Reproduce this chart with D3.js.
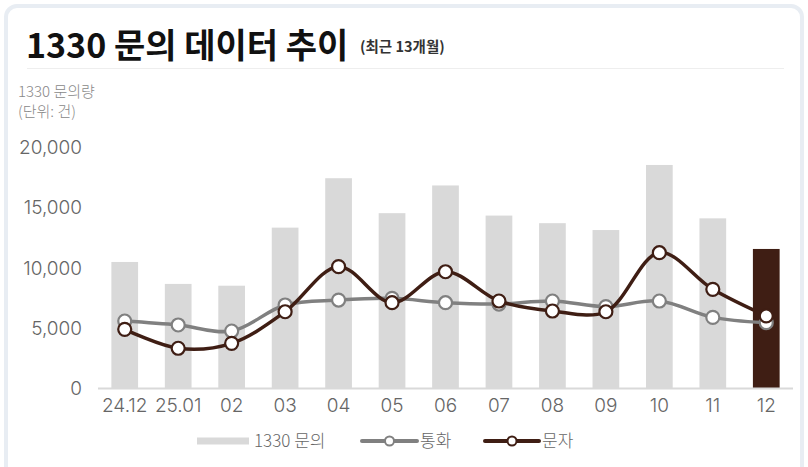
<!DOCTYPE html>
<html>
<head>
<meta charset="utf-8">
<script src="https://cdn.jsdelivr.net/npm/d3@7"></script>
<style>
  body { margin: 0; background: #fff; }
  svg { display: block; font-family: "Noto Sans CJK KR", "Noto Sans", sans-serif; }
</style>
</head>
<body>
<svg id="chart" width="808" height="467"></svg>
<script>
// months on the x axis
var months = ["24.12", "25.01", "02", "03", "04", "05", "06", "07", "08", "09", "10", "11", "12"];
// total 1330 inquiries (bars)
var inquiry = [10500, 8680, 8530, 13350, 17450, 14550, 16850, 14350, 13720, 13150, 18550, 14120, 11580];
// phone calls (gray line)
var calls = [5600, 5270, 4770, 6930, 7340, 7480, 7120, 7010, 7260, 6790, 7260, 5900, 5460];
// text messages (dark line)
var texts = [4910, 3340, 3750, 6370, 10110, 7120, 9690, 7260, 6430, 6370, 11270, 8230, 6020];
var yTicks = [0, 5000, 10000, 15000, 20000];

var svg = d3.select("#chart");
var dark = "#3f1e14", grayLine = "#808080", barGray = "#d9d9d9";

// card frame
svg.append("rect")
  .attr("x", 6).attr("y", 6)
  .attr("width", 796).attr("height", 500)
  .attr("rx", 11)
  .attr("fill", "#fff")
  .attr("stroke", "#e8edf3")
  .attr("stroke-width", 4);

// title
svg.append("text")
  .attr("x", 26).attr("y", 58)
  .attr("fill", "#111")
  .style("font-weight", 700)
  .style("font-size", "34px")
  .text("1330 문의 데이터 추이");
svg.append("text")
  .attr("x", 360).attr("y", 52)
  .attr("fill", "#333")
  .style("font-weight", 700)
  .style("font-size", "14.5px")
  .text("(최근 13개월)");

svg.append("line")
  .attr("x1", 27).attr("x2", 784)
  .attr("y1", 68.5).attr("y2", 68.5)
  .attr("stroke", "#eeeeee");

// axis title
svg.append("text").attr("x", 18).attr("y", 97)
  .attr("fill", "#888").style("font-size", "15px").style("font-weight", 300).text("1330 문의량");
svg.append("text").attr("x", 18).attr("y", 117)
  .attr("fill", "#888").style("font-size", "15px").style("font-weight", 300).text("(단위: 건)");

// scales
var x = d3.scaleBand().domain(months).range([98, 793]).paddingInner(0.5).paddingOuter(0.25);
var y = d3.scaleLinear().domain([0, 20000]).range([388.5, 147.5]);

// y axis labels
var yAxis = svg.append("g")
  .attr("transform", "translate(82,0)")
  .call(d3.axisLeft(y).tickValues(yTicks).tickSize(0).tickPadding(0).tickFormat(d3.format(",")));
yAxis.select(".domain").remove();
yAxis.selectAll("text")
  .attr("fill", "#666")
  .style("font-size", "19px")
  .style("font-family", "Inter, 'Noto Sans CJK KR', sans-serif")
  .style("font-weight", 300);

// bars
svg.append("g").selectAll("rect")
  .data(inquiry)
  .join("rect")
  .attr("x", function(d, i) { return x(months[i]); })
  .attr("width", x.bandwidth())
  .attr("y", function(d) { return y(d); })
  .attr("height", function(d) { return y(0) - y(d); })
  .attr("fill", function(d, i) { return i == months.length - 1 ? dark : barGray; });

// x axis
var xAxis = svg.append("g")
  .attr("transform", "translate(0," + y(0) + ")")
  .call(d3.axisBottom(x).tickSize(0).tickPadding(10));
xAxis.select(".domain").attr("stroke", "#d9d9d9").attr("stroke-width", 2)
  .attr("d", "M98,0H793");
xAxis.selectAll("text")
  .attr("fill", "#666")
  .style("font-size", "19px")
  .style("font-family", "Inter, 'Noto Sans CJK KR', sans-serif")
  .style("font-weight", 300);

// lines
var cx = function(d, i) { return x(months[i]) + x.bandwidth() / 2; };
var line = d3.line()
  .x(cx)
  .y(function(d) { return y(d); })
  .curve(d3.curveCatmullRom.alpha(0.5));

function drawSeries(vals, color) {
  var g = svg.append("g");
  g.append("path")
    .attr("d", line(vals))
    .attr("fill", "none")
    .attr("stroke", color)
    .attr("stroke-width", 3.5)
    .attr("stroke-linejoin", "round");
  g.selectAll("circle")
    .data(vals)
    .join("circle")
    .attr("cx", cx)
    .attr("cy", function(d) { return y(d); })
    .attr("r", 6.5)
    .attr("fill", "#fff")
    .attr("stroke", color)
    .attr("stroke-width", 2.2);
}
drawSeries(calls, grayLine);
drawSeries(texts, dark);

// legend
var lg = svg.append("g").style("font-size", "17px").attr("fill", "#666");
lg.append("rect").attr("x", 197).attr("y", 437.5).attr("width", 52).attr("height", 7).attr("fill", barGray);
lg.append("text").attr("x", 254).attr("y", 447).attr("fill", "#666").style("font-weight", 300).text("1330 문의");

var legendLines = [
  { x1: 362, x2: 417, color: grayLine, label: "통화" },
  { x1: 485, x2: 539, color: dark, label: "문자" }
];
legendLines.forEach(function(l) {
  lg.append("line").attr("x1", l.x1).attr("x2", l.x2).attr("y1", 441).attr("y2", 441)
    .attr("stroke", l.color).attr("stroke-width", 4).attr("stroke-linecap", "round");
  lg.append("circle").attr("cx", (l.x1 + l.x2) / 2).attr("cy", 441).attr("r", 4.5)
    .attr("fill", "#fff").attr("stroke", l.color).attr("stroke-width", 2);
  lg.append("text").attr("x", l.x2 + 3).attr("y", 447).attr("fill", "#666").style("font-weight", 300).text(l.label);
});
</script>
</body>
</html>
